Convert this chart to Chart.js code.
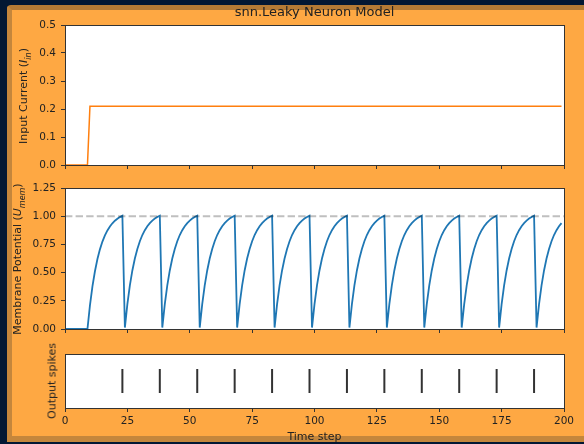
<!DOCTYPE html>
<html>
<head>
<meta charset="utf-8">
<script src="https://cdn.jsdelivr.net/npm/chart.js@4.4.1/dist/chart.umd.min.js"></script>
<style>
  html, body { margin: 0; padding: 0; }
  body { width: 584px; height: 444px; background: #021733; position: relative; overflow: hidden; font-family: "DejaVu Sans", sans-serif; }
  #frame { position: absolute; left: 7px; top: 5px; width: 577px; height: 437px; box-sizing: border-box;
           background: #fea843; border-left: 5px solid #c4863c; border-top: 5px solid #b47a35;
           border-bottom: 6px solid #c4863c; border-top-left-radius: 4px; }
  .panel { position: absolute; left: 0; }
  .ylabel { position: absolute; transform: translate(-50%, -50%) rotate(-90deg); white-space: nowrap; font-size: 11px; color: #222; }
  .ylabel sub { font-size: 8px; }
  #title { position: absolute; left: 314.5px; top: 11px; transform: translate(-50%, -50%); white-space: nowrap; font-size: 13px; color: #222; }
</style>
</head>
<body>
<div id="frame"></div>
<canvas class="panel" id="cur" width="584" height="176" style="top:0px"></canvas>
<canvas class="panel" id="mem" width="584" height="165" style="top:175px"></canvas>
<canvas class="panel" id="spk" width="584" height="104" style="top:340px"></canvas>
<div id="title">snn.Leaky Neuron Model</div>
<div class="ylabel" style="left:25px; top:96px">Input Current (<i>I<sub>in</sub></i>)</div>
<div class="ylabel" style="left:18.5px; top:259px">Membrane Potential (<i>U<sub>mem</sub></i>)</div>
<div class="ylabel" style="left:52px; top:381px">Output spikes</div>
<script>
// tick positions / labels
const timeTicks = [0, 25, 50, 75, 100, 125, 150, 175, 200];
const curTicks = [0, 0.1, 0.2, 0.3, 0.4, 0.5];
const curTickLabels = ['0.0', '0.1', '0.2', '0.3', '0.4', '0.5'];
const memTicks = [0, 0.25, 0.5, 0.75, 1.0, 1.25];
const memTickLabels = ['0.00', '0.25', '0.50', '0.75', '1.00', '1.25'];

// input current: off for the first 10 steps, then constant
const curSteps = [0, 9, 10, 199];
const curValues = [0, 0, 0.21, 0.21];

// membrane potential, one value per time step (0..199)
const memPotential = [
  0, 0, 0, 0, 0, 0, 0, 0, 0, 0,
  0.210, 0.378, 0.512, 0.620, 0.706, 0.775, 0.830, 0.874, 0.909, 0.937, 0.960, 0.978, 0.992, 1.004,
  0.013, 0.220, 0.386, 0.519, 0.625, 0.710, 0.778, 0.833, 0.876, 0.911, 0.939, 0.961, 0.979, 0.993, 1.004,
  0.013, 0.220, 0.386, 0.519, 0.625, 0.710, 0.778, 0.833, 0.876, 0.911, 0.939, 0.961, 0.979, 0.993, 1.004,
  0.013, 0.220, 0.386, 0.519, 0.625, 0.710, 0.778, 0.833, 0.876, 0.911, 0.939, 0.961, 0.979, 0.993, 1.004,
  0.013, 0.220, 0.386, 0.519, 0.625, 0.710, 0.778, 0.833, 0.876, 0.911, 0.939, 0.961, 0.979, 0.993, 1.004,
  0.013, 0.220, 0.386, 0.519, 0.625, 0.710, 0.778, 0.833, 0.876, 0.911, 0.939, 0.961, 0.979, 0.993, 1.004,
  0.013, 0.220, 0.386, 0.519, 0.625, 0.710, 0.778, 0.833, 0.876, 0.911, 0.939, 0.961, 0.979, 0.993, 1.004,
  0.013, 0.220, 0.386, 0.519, 0.625, 0.710, 0.778, 0.833, 0.876, 0.911, 0.939, 0.961, 0.979, 0.993, 1.004,
  0.013, 0.220, 0.386, 0.519, 0.625, 0.710, 0.778, 0.833, 0.876, 0.911, 0.939, 0.961, 0.979, 0.993, 1.004,
  0.013, 0.220, 0.386, 0.519, 0.625, 0.710, 0.778, 0.833, 0.876, 0.911, 0.939, 0.961, 0.979, 0.993, 1.004,
  0.013, 0.220, 0.386, 0.519, 0.625, 0.710, 0.778, 0.833, 0.876, 0.911, 0.939, 0.961, 0.979, 0.993, 1.004,
  0.013, 0.220, 0.386, 0.519, 0.625, 0.710, 0.778, 0.833, 0.876, 0.911, 0.939, 0.961, 0.979, 0.993, 1.004,
  0.013, 0.220, 0.386, 0.519, 0.625, 0.710, 0.778, 0.833, 0.876, 0.911, 0.939
];

const thrX = [0, 200];
const thrY = [1.0, 1.0];

const spikeTimes = [23, 38, 53, 68, 83, 98, 113, 128, 143, 158, 173, 188];

const INK = '#222';
const SPINE = '#333';
const FONT = 'DejaVu Sans';
// lineHeight 12px keeps the label overhang (6 + padding 5) a whole pixel
const tickFont = { family: FONT, size: 10.5, lineHeight: '12px' };

// white plot area + spines on all four sides, like matplotlib
const axesBox = {
  id: 'axesBox',
  beforeDraw(chart) {
    const { ctx, chartArea: a } = chart;
    ctx.save();
    ctx.fillStyle = '#fff';
    ctx.fillRect(a.left, a.top, a.right - a.left, a.bottom - a.top);
    ctx.restore();
  },
  afterDraw(chart) {
    const { ctx, chartArea: a } = chart;
    ctx.save();
    ctx.strokeStyle = SPINE;
    ctx.lineWidth = 1;
    ctx.strokeRect(a.left + 0.5, a.top + 0.5, a.right - a.left, a.bottom - a.top);
    ctx.restore();
  }
};

function xAxis(showLabels, h) {
  return {
    type: 'linear', min: 0, max: 200,
    afterBuildTicks: s => { s.ticks = timeTicks.map(v => ({ value: v })); },
    afterFit: s => { s.height = h; },
    grid: { drawOnChartArea: false, drawTicks: true, tickLength: 4, color: SPINE },
    border: { display: false },
    ticks: { display: showLabels, color: INK, font: tickFont, padding: 3, maxRotation: 0, autoSkip: false }
  };
}

function yAxis(min, max, ticks, labels) {
  return {
    type: 'linear', min: min, max: max,
    afterBuildTicks: s => { s.ticks = ticks.map(v => ({ value: v })); },
    afterFit: s => { s.width = 65; },
    grid: { drawOnChartArea: false, drawTicks: true, tickLength: 4, color: SPINE },
    border: { display: false },
    ticks: { color: INK, font: tickFont, padding: 5, callback: (v, i) => labels[i] }
  };
}

const common = {
  responsive: false,
  animation: false,
  devicePixelRatio: 1,
  elements: { point: { radius: 0 }, line: { tension: 0 } }
};

// input current
new Chart(document.getElementById('cur'), {
  type: 'line',
  data: {
    datasets: [{
      data: curSteps.map((t, i) => ({ x: t, y: curValues[i] })),
      borderColor: '#ff7f0e', borderWidth: 1.5
    }]
  },
  options: Object.assign({}, common, {
    layout: { padding: { left: 0, right: 20, top: 25, bottom: 0 } },
    plugins: { legend: { display: false }, tooltip: { enabled: false } },
    scales: { x: xAxis(false, 5), y: yAxis(0, 0.5, curTicks, curTickLabels) }
  }),
  plugins: [axesBox]
});

// membrane potential with threshold line
new Chart(document.getElementById('mem'), {
  type: 'line',
  data: {
    datasets: [
      {
        data: thrX.map((t, i) => ({ x: t, y: thrY[i] })),
        borderColor: 'rgba(0,0,0,0.25)', borderWidth: 2, borderDash: [7.4, 3.2]
      },
      {
        data: memPotential.map((v, i) => ({ x: i, y: v })),
        borderColor: '#1f77b4', borderWidth: 1.8
      }
    ]
  },
  options: Object.assign({}, common, {
    layout: { padding: { left: 0, right: 20, top: 13, bottom: 0 } },
    plugins: { legend: { display: false }, tooltip: { enabled: false } },
    scales: { x: xAxis(false, 5), y: yAxis(0, 1.25, memTicks, memTickLabels) }
  }),
  plugins: [axesBox]
});

// output spike raster
const spkX = xAxis(true, 36);
spkX.title = { display: true, text: 'Time step', color: INK, font: { family: FONT, size: 11 }, padding: { top: 0, bottom: 0 } };
new Chart(document.getElementById('spk'), {
  type: 'scatter',
  data: {
    datasets: [{
      data: spikeTimes.map(t => ({ x: t, y: 0 })),
      pointStyle: 'line', rotation: 90, pointRadius: 12,
      borderColor: '#333', borderWidth: 2
    }]
  },
  options: Object.assign({}, common, {
    layout: { padding: { left: 0, right: 20, top: 12, bottom: 0 } },
    plugins: { legend: { display: false }, tooltip: { enabled: false } },
    scales: {
      x: spkX,
      y: { type: 'linear', min: -1, max: 1, afterFit: s => { s.width = 65; },
           grid: { display: false }, border: { display: false }, ticks: { display: false } }
    }
  }),
  plugins: [axesBox]
});
</script>
</body>
</html>
